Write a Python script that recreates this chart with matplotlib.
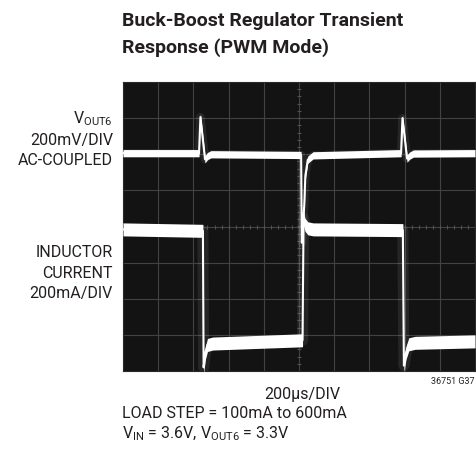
import matplotlib
matplotlib.use('Agg')
import matplotlib.pyplot as plt
import numpy as np

plt.rcParams['font.family'] = ['Roboto', 'DejaVu Sans']
plt.rcParams['mathtext.fontset'] = 'custom'
plt.rcParams['mathtext.rm'] = 'Roboto'

# scope traces, time in divisions (0..10), level in divisions (-4..4)
vout_t = [0.0, 2.16, 2.20, 2.33, 2.40, 2.50, 5.06, 5.08, 5.15, 5.18, 5.25, 5.40, 7.90, 7.94, 8.07, 8.14, 8.25, 10.0]
vout_v = [2.03, 2.03, 3.03, 1.86, 1.95, 2.00, 1.98, -0.45, 0.60, 1.40, 1.85, 1.97, 2.03, 3.00, 1.88, 1.96, 2.02, 2.03]

cur_t = [0.0, 2.27, 2.29, 2.34, 2.40, 2.55, 5.10, 5.13, 5.17, 5.25, 5.40, 7.95, 7.98, 8.04, 8.12, 8.30, 10.0]
cur_i = [-0.08, -0.12, -3.90, -3.50, -3.28, -3.24, -3.15, 0.22, 0.05, -0.05, -0.08, -0.10, -3.85, -3.50, -3.26, -3.22, -3.18]

title = 'Buck-Boost Regulator Transient\nResponse (PWM Mode)'
time_label = '200µs/DIV'
fig_code = '36751 G37'

W, H = 477, 458
fig = plt.figure(figsize=(W / 100, H / 100), dpi=100)
fig.patch.set_facecolor('white')
ax = fig.add_axes([123 / W, (H - 371) / H, 352 / W, 289 / H])
ax.set_facecolor('#131313')
ax.set_xlim(0, 10)
ax.set_ylim(-4, 4)
ax.set_xticks([])
ax.set_yticks([])
for s in ax.spines.values():
    s.set_color('#2a2a2a')
    s.set_linewidth(0.8)

# graticule
for gx in range(1, 10):
    ax.axvline(gx, color='#424242', lw=0.8, zorder=1)
for gy in range(-3, 4):
    ax.axhline(gy, color='#424242', lw=0.8, zorder=1)
minor = np.arange(0, 10.01, 0.2)
ax.plot(minor, np.zeros_like(minor), '|', color='#505050', ms=3.5, mew=0.8, zorder=1)
minor_y = np.arange(-4, 4.01, 0.2)
ax.plot(np.full_like(minor_y, 5.0), minor_y, '_', color='#505050', ms=3.5, mew=0.8, zorder=1)

vt = np.array(vout_t)
vv = np.array(vout_v)
ct = np.array(cur_t)
ci = np.array(cur_i)

# glow, then band, then core line
ax.plot(vt, vv, color='white', lw=6, alpha=0.08, zorder=2)
ax.fill_between(vt, vv - 0.1, vv + 0.1, color='white', lw=0, zorder=3)
ax.plot(vt, vv, color='white', lw=1.5, zorder=4)

ax.plot(ct, ci, color='white', lw=8, alpha=0.08, zorder=2)
ax.fill_between(ct, ci - 0.18, ci + 0.18, color='white', lw=0, zorder=3)
ax.plot(ct, ci, color='white', lw=1.5, zorder=4)

ink = '#231f20'
fig.text(122 / W, 1 - 12 / H, title, ha='left', va='top', fontsize=14,
         fontweight='bold', color=ink, linespacing=1.55)

fig.text(113 / W, 1 - 109 / H, 'V$_{\\mathregular{OUT6}}$\n200mV/DIV\nAC-COUPLED', ha='right',
         va='top', fontsize=11.5, color=ink, linespacing=1.42)
fig.text(113 / W, 1 - 273 / H, 'INDUCTOR\nCURRENT\n200mA/DIV', ha='right', va='center',
         fontsize=11.5, color=ink, linespacing=1.42)

fig.text(302 / W, 1 - 395 / H, time_label, ha='center', va='center', fontsize=11.5, color=ink)
fig.text(475 / W, 1 - 382 / H, fig_code, ha='right', va='center', fontsize=6.5, color=ink)
fig.text(122 / W, 1 - 413 / H, 'LOAD STEP = 100mA to 600mA', ha='left', va='center',
         fontsize=11.5, color=ink)
fig.text(122 / W, 1 - 434 / H, 'V$_{\\mathregular{IN}}$ = 3.6V, V$_{\\mathregular{OUT6}}$ = 3.3V',
         ha='left', va='center', fontsize=11.5, color=ink)

fig.savefig('out.png', dpi=100, facecolor='white')
